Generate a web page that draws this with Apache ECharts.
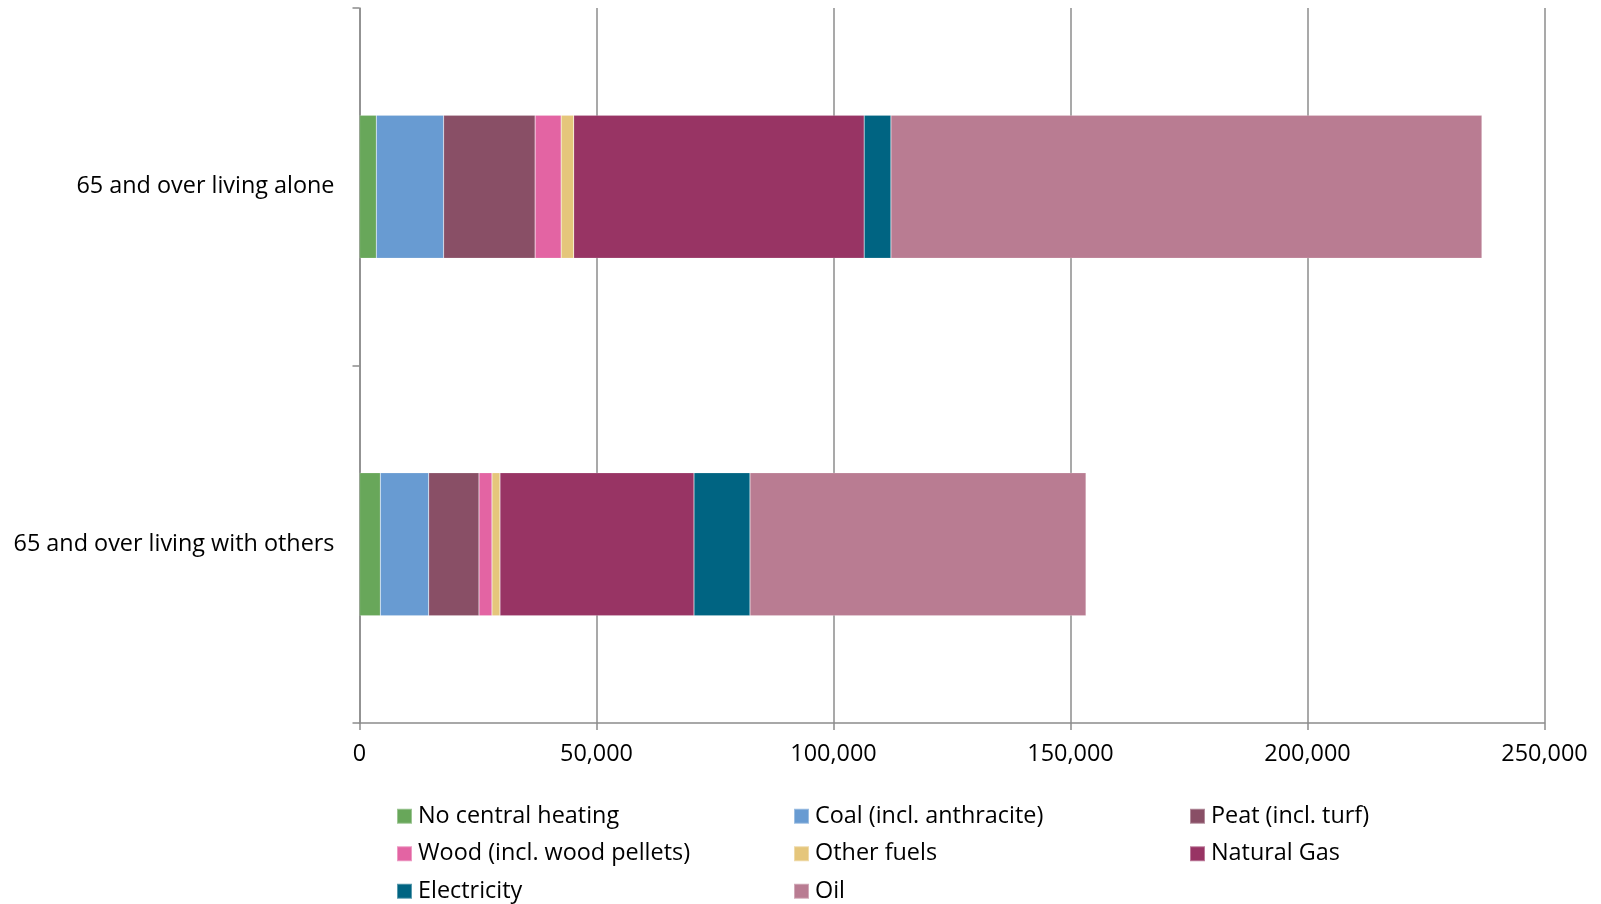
<!DOCTYPE html>
<html>
<head>
<meta charset="utf-8">
<script src="https://cdn.jsdelivr.net/npm/echarts@6/dist/echarts.min.js"></script>
<style>
html,body{margin:0;padding:0;background:#fff;}
#chart{width:1601px;height:904px;}
</style>
</head>
<body>
<div id="chart"></div>
<script>
const categories = ['65 and over living alone', '65 and over living with others'];
const seriesNames = ['No central heating', 'Coal (incl. anthracite)', 'Peat (incl. turf)', 'Wood (incl. wood pellets)', 'Other fuels', 'Natural Gas', 'Electricity', 'Oil'];
const noCentralHeating = [3550, 4390];
const coal = [14200, 10210];
const peat = [19300, 10610];
const wood = [5490, 2740];
const otherFuels = [2660, 1690];
const naturalGas = [61270, 40930];
const electricity = [5650, 11810];
const oil = [124680, 70890];
const colors = ['#68A75A', '#689BD2', '#894F66', '#E364A3', '#E5C67B', '#983464', '#006482', '#B97C92'];

const values = [noCentralHeating, coal, peat, wood, otherFuels, naturalGas, electricity, oil];
const font = '"Open Sans", sans-serif';
const fs = 23.4;

const chart = echarts.init(document.getElementById('chart'));
const legendBase = {
  orient: 'vertical',
  top: 804,
  height: 130,
  itemWidth: 15,
  itemHeight: 15,
  itemGap: 13,
  icon: 'rect',
  selectedMode: false,
  textStyle: {fontFamily: font, fontSize: fs, color: '#000', lineHeight: 24.5, padding: [0, 0, 0, 1]},
  padding: 0
};
chart.setOption({
  animation: false,
  color: colors,
  grid: {left: 359.5, right: 56.5, top: 8, bottom: 181, containLabel: false},
  legend: [
    Object.assign({}, legendBase, {left: 396, data: [seriesNames[0], seriesNames[3], seriesNames[6]]}),
    Object.assign({}, legendBase, {left: 793, data: [seriesNames[1], seriesNames[4], seriesNames[7]]}),
    Object.assign({}, legendBase, {left: 1189, data: [seriesNames[2], seriesNames[5]]})
  ],
  xAxis: {
    type: 'value',
    min: 0,
    max: 250000,
    interval: 50000,
    axisLine: {show: true, lineStyle: {color: '#8c8c8c', width: 1.5}},
    axisTick: {show: true, length: 7, lineStyle: {color: '#8c8c8c', width: 1.5}},
    splitLine: {show: true, lineStyle: {color: '#8c8c8c', width: 1.5}},
    axisLabel: {
      fontFamily: font, fontSize: fs, color: '#000', margin: 20,
      formatter: v => v.toLocaleString('en-US')
    }
  },
  yAxis: {
    type: 'category',
    data: categories,
    inverse: true,
    axisLine: {show: true, lineStyle: {color: '#8c8c8c', width: 1.5}},
    axisTick: {show: true, length: 7, lineStyle: {color: '#8c8c8c', width: 1.5}},
    axisLabel: {fontFamily: font, fontSize: fs, color: '#000', margin: 25}
  },
  series: seriesNames.map((name, i) => ({
    name: name,
    type: 'bar',
    stack: 'total',
    barCategoryGap: '60%',
    data: values[i],
    itemStyle: {color: colors[i], borderColor: 'rgba(255,255,255,0.35)', borderWidth: 0.5}
  }))
});
</script>
</body>
</html>
